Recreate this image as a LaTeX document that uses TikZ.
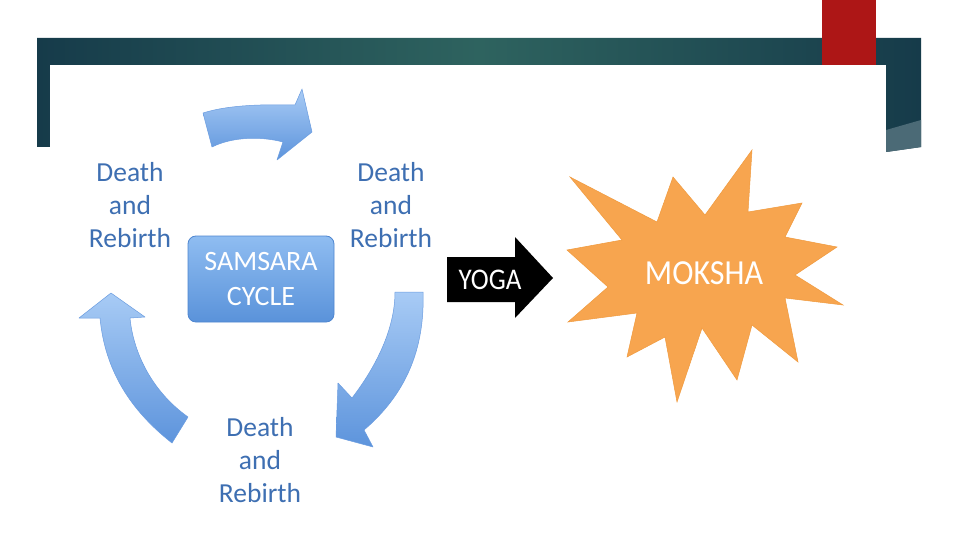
\documentclass[tikz,border=0pt]{standalone}
\usepackage{fontspec}
\setmainfont{Carlito}
\definecolor{banddark}{HTML}{163B4A}
\definecolor{bandmid}{HTML}{2E635F}
\definecolor{bandpatch}{HTML}{4B6A76}
\definecolor{accentred}{HTML}{AD1616}
\definecolor{txtblue}{HTML}{3E6FB2}
\definecolor{arrlight}{HTML}{A8CBF5}
\definecolor{arrdark}{HTML}{5D94DC}
\definecolor{arredge}{HTML}{6A9CE0}
\definecolor{boxlight}{HTML}{8FBDF1}
\definecolor{boxdark}{HTML}{5A92DA}
\definecolor{boxedge}{HTML}{4F86D0}
\definecolor{starfill}{HTML}{F7A54F}
\definecolor{staredge}{HTML}{F09A3E}
\begin{document}
\begin{tikzpicture}[x=1pt,y=-1pt,
  lbl/.style={text=txtblue, font=\fontsize{27.5}{33}\selectfont, align=center, inner sep=0pt},
  cyclearrow/.style={top color=arrlight, bottom color=arrdark, draw=arredge, line width=0.5pt, line join=round},
  cyclebox/.style={rounded corners=8pt, top color=boxlight, bottom color=boxdark, draw=boxedge, line width=0.8pt,
     minimum width=146pt, minimum height=86pt, text=white, align=center,
     font=\fontsize{28}{35}\selectfont, inner sep=0pt},
  whitetxt/.style={text=white, inner sep=0pt}
]
\useasboundingbox (0,0) rectangle (960,540);
\fill[white] (0,0) rectangle (960,540);
% slide frame band
\shade[left color=banddark, right color=banddark, middle color=bandmid]
  (37,38) -- (921,38) -- (921,147) -- (886,152) -- (886,147) -- (37,147) -- cycle;
\fill[bandpatch] (886,130) -- (921,120) -- (921,147) -- (886,152) -- cycle;
\fill[accentred] (822,0) rectangle (876,65);
\fill[white] (50,65) rectangle (886,540);

% cycle arrows
\shade[cyclearrow] (203,113) .. controls (225,106) and (255,104) .. (295,105)
  -- (302,89) -- (312,132) -- (277,160) -- (283,142)
  .. controls (260,136) and (232,137) .. (212,147) -- cycle;
\shade[cyclearrow] (111,293) -- (145,317) -- (130,318)
  .. controls (133,350) and (150,390) .. (188,417) -- (172,443)
  .. controls (130,410) and (105,370) .. (100,318) -- (79,318) -- cycle;
\shade[cyclearrow] (395,292) -- (423,292)
  .. controls (425,350) and (405,395) .. (364,430) -- (373,447) -- (336,437)
  -- (338,383) -- (352,398) .. controls (375,368) and (395,330) .. (395,292) -- cycle;

% labels
\node[lbl] (dl) at (130,205) {Death\\and\\Rebirth};
\node[lbl] (dr) at (391,205) {Death\\and\\Rebirth};
\node[lbl] (db) at (260,460) {Death\\and\\Rebirth};
\node[cyclebox] (sc) at (261,279) {SAMSARA\\CYCLE};

% yoga arrow
\fill[black] (447,257) -- (515,257) -- (515,237) -- (553,278) -- (515,318)
  -- (515,302) -- (447,302) -- cycle;
\node[whitetxt, font=\fontsize{30}{34}\selectfont] (yoga) at (490,280) {\scalebox{0.9}[1]{YOGA}};

% moksha star
\fill[starfill, draw=staredge, line width=0.5pt, line join=miter]
  (570,177) -- (657,222) -- (673,177) -- (705,215) -- (752,150) -- (748,212)
  -- (802,203) -- (785,237) -- (837,247) -- (795,275) -- (843,305) -- (785,298)
  -- (798,362) -- (752,325) -- (737,380) -- (702,328) -- (677,402) -- (665,337)
  -- (627,357) -- (637,313) -- (568,322) -- (608,287) -- (567,250) -- (622,240) -- cycle;
\node[whitetxt, font=\fontsize{32}{36}\selectfont] (moksha) at (704,273) {\scalebox{1}[1.1]{MOKSHA}};
\end{tikzpicture}
\end{document}
